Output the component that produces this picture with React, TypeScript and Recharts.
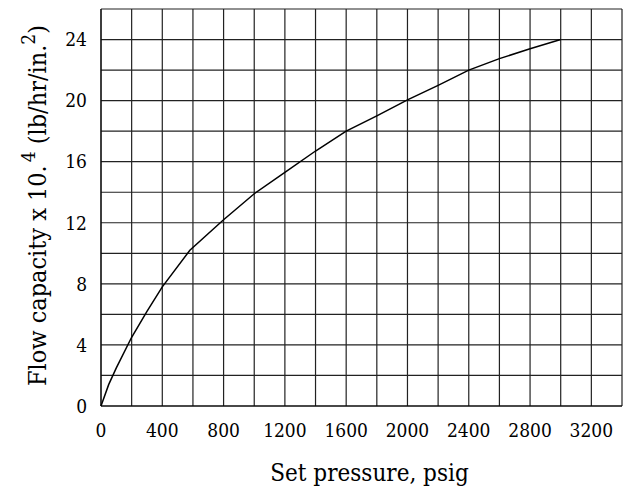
import React from 'react'
import { LineChart, Line, XAxis, YAxis, CartesianGrid } from 'recharts'

const pressure = [0, 50, 100, 200, 300, 400, 580, 800, 1000, 1200, 1400, 1600, 1800, 2000, 2200, 2400, 2600, 2800, 3000]
const capacity = [0, 1.4, 2.5, 4.5, 6.2, 7.8, 10.2, 12.2, 13.9, 15.3, 16.7, 18.0, 19.0, 20.05, 21.0, 22.0, 22.75, 23.4, 24.0]
const xTicks = [0, 200, 400, 600, 800, 1000, 1200, 1400, 1600, 1800, 2000, 2200, 2400, 2600, 2800, 3000, 3200, 3400]
const yTicks = [0, 2, 4, 6, 8, 10, 12, 14, 16, 18, 20, 22, 24, 26]

const data = pressure.map((p, i) => ({ p, c: capacity[i] }))

const font = '"DejaVu Serif Condensed", "Liberation Serif", serif'

const YLabel = ({ viewBox }: any) => {
    const cx = 37
    const cy = viewBox.y + viewBox.height / 2 - 2
    return (
        <text
            x={cx}
            y={cy}
            transform={`rotate(-90 ${cx} ${cy})`}
            textAnchor='middle'
            dominantBaseline='central'
            fontFamily={font}
            fontSize={25}
            fill='#000'
        >
            Flow capacity x 10.
            <tspan dx={3} dy={-9} fontSize={19}>4</tspan>
            <tspan dy={9}> (lb/hr/in.</tspan>
            <tspan dy={-9} fontSize={19}>2</tspan>
            <tspan dy={9}>)</tspan>
        </text>
    )
}

const XLabel = ({ viewBox }: any) => {
    const cx = viewBox.x + viewBox.width / 2 + 8
    return (
        <text x={cx} y={481} textAnchor='middle' fontFamily={font} fontSize={24} fill='#000'>
            Set pressure, psig
        </text>
    )
}

export default function App() {
    return (
        <div style={{ position: 'absolute', left: 0, top: 0, background: '#fff' }}>
            <LineChart width={623} height={491} data={data} margin={{ top: 9, right: 1, bottom: 0, left: 0 }}>
                <CartesianGrid stroke='#222' strokeWidth={1.2} />
                <XAxis
                    dataKey='p'
                    type='number'
                    domain={[0, 3400]}
                    ticks={xTicks}
                    interval={0}
                    tickFormatter={(v: number) => (v % 400 === 0 && v < 3400 ? String(v) : '')}
                    tickLine={false}
                    axisLine={{ stroke: '#000' }}
                    tickSize={0}
                    tickMargin={18}
                    tick={{ fill: '#000', fontFamily: font, fontSize: 19 }}
                    height={85}
                    label={<XLabel />}
                />
                <YAxis
                    type='number'
                    domain={[0, 26]}
                    ticks={yTicks}
                    interval={0}
                    tickFormatter={(v: number) => (v % 4 === 0 && v < 26 ? String(v) : '')}
                    tickLine={false}
                    axisLine={{ stroke: '#000' }}
                    tickSize={0}
                    tickMargin={14}
                    tick={{ fill: '#000', fontFamily: font, fontSize: 19 }}
                    width={101}
                    label={<YLabel />}
                />
                <Line dataKey='c' type='linear' stroke='#000' strokeWidth={1.5} dot={false} isAnimationActive={false} />
            </LineChart>
        </div>
    )
}
